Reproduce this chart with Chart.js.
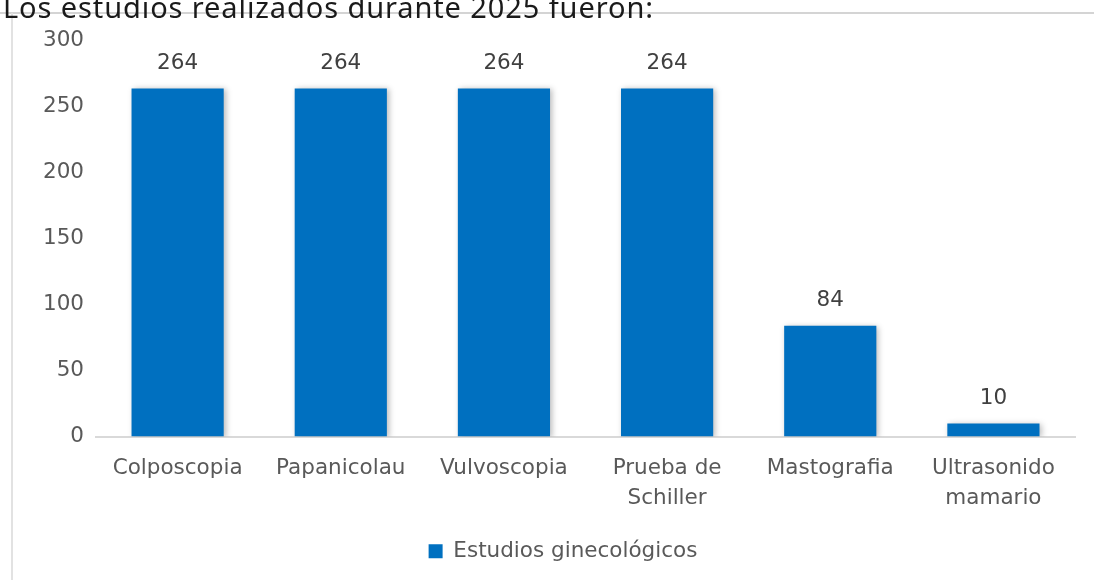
<!DOCTYPE html>
<html><head><meta charset="utf-8">
<script src="https://cdn.jsdelivr.net/npm/chart.js@4"></script>
<style>
html,body{margin:0;padding:0;background:#fff;width:1094px;height:580px;overflow:hidden;position:relative;}
#title{position:absolute;left:3px;top:0;font-family:"Noto Sans",sans-serif;font-size:29px;letter-spacing:0.9px;line-height:1;color:#1a1a1a;white-space:nowrap;z-index:2;transform:translateY(-8px);}
#hline{position:absolute;left:0;top:12px;width:1094px;height:2px;background:#d4d4d4;}
#vline{position:absolute;left:11px;top:13px;width:2px;height:567px;background:#e2e2e2;}
#wrap{position:absolute;left:14px;top:16px;width:1080px;height:564px;}
</style></head><body>
<div id="hline"></div><div id="vline"></div>
<div id="title">Los estudios realizados durante 2025 fueron:</div>
<div id="wrap"><canvas id="c"></canvas></div>
<script>
const categories = [["Colposcopia"],["Papanicolau"],["Vulvoscopia"],["Prueba de","Schiller"],["Mastografia"],["Ultrasonido","mamario"]];
const seriesName = "Estudios ginecológicos";
const values = [264,264,264,264,84,10];
const yTicks = [0,50,100,150,200,250,300];

const FONT = "'DejaVu Sans', sans-serif";
const FS = 21.5;
const labelPlugin = {
  id:'vlabels',
  afterLayout(chart){
    if (chart.legend) { chart.legend.left += 10; chart.legend.right += 10; }
  },
  beforeDatasetsDraw(chart){
    const ctx = chart.ctx;
    ctx.save();
    ctx.shadowColor = 'rgba(0,0,0,0.28)';
    ctx.shadowBlur = 6;
    ctx.shadowOffsetX = 2;
    ctx.shadowOffsetY = 1;
  },
  afterDatasetsDraw(chart){
    const ctx = chart.ctx;
    ctx.restore();
    const meta = chart.getDatasetMeta(0);
    ctx.save();
    ctx.font = FS + "px " + FONT;
    ctx.fillStyle = "#404040";
    ctx.textAlign = "center";
    ctx.textBaseline = "middle";
    meta.data.forEach((bar,i)=>{
      ctx.fillText(String(chart.data.datasets[0].data[i]), bar.x, bar.y - 25);
    });
    ctx.restore();
  }
};

new Chart(document.getElementById('c'),{
  type:'bar',
  data:{labels:categories,datasets:[{label:seriesName,data:values,backgroundColor:'#0070C0',borderWidth:0,barPercentage:0.565,categoryPercentage:1}]},
  options:{
    responsive:true,maintainAspectRatio:false,animation:false,
    layout:{padding:{left:17,right:19,top:17,bottom:8}},
    plugins:{
      legend:{position:'bottom',labels:{font:{family:FONT,size:FS},color:'#595959',boxWidth:14,boxHeight:14,padding:10}},
      tooltip:{enabled:false}
    },
    scales:{
      x:{grid:{display:false,drawTicks:false},border:{display:true,color:'#d9d9d9',width:2},
         ticks:{font:{family:FONT,size:FS,lineHeight:1.37},color:'#595959',padding:17.5,maxRotation:0}},
      y:{min:0,max:300,afterBuildTicks(s){s.ticks=yTicks.map(v=>({value:v}));},
         grid:{display:false,drawTicks:false},border:{display:false},
         ticks:{font:{family:FONT,size:FS},color:'#595959',padding:12}}
    }
  },
  plugins:[labelPlugin]
});
</script></body></html>
